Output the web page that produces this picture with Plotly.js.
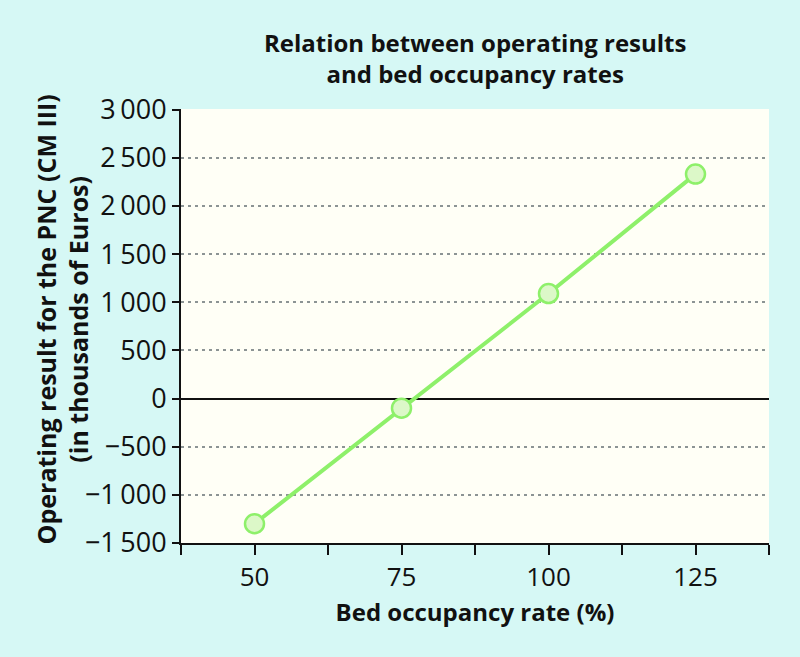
<!DOCTYPE html>
<html>
<head>
<meta charset="utf-8">
<script src="https://cdn.plot.ly/plotly-3.0.1.min.js"></script>
<style>html,body{margin:0;padding:0;background:#d6f8f5;}#chart{width:800px;height:657px;}</style>
</head>
<body>
<div id="chart"></div>
<script>
const occupancy = [50, 75, 100, 125];
const operatingResult = [-1300, -100, 1090, 2330];

const xTickVals = [37.5, 50, 62.5, 75, 87.5, 100, 112.5, 125, 137.5];
const xTickText = ['', '50', '', '75', '', '100', '', '125', ''];
const yTickVals = [-1500, -1000, -500, 0, 500, 1000, 1500, 2000, 2500, 3000];
const yTickText = ['\u22121\u2009500', '\u22121\u2009000', '\u2212500', '0', '500', '1\u2009000', '1\u2009500', '2\u2009000', '2\u2009500', '3\u2009000'];

const font = 'Open Sans, DejaVu Sans, sans-serif';

const trace = {
  x: occupancy, y: operatingResult, type: 'scatter', mode: 'lines+markers',
  line: {color: '#8ef06a', width: 4},
  marker: {size: 19, color: '#dcf8c8', line: {color: '#8ef06a', width: 2.5}},
  cliponaxis: false, hoverinfo: 'none'
};

const layout = {
  width: 800, height: 657,
  paper_bgcolor: '#d6f8f5', plot_bgcolor: '#fffff6',
  margin: {l: 181, r: 31, t: 109, b: 114},
  showlegend: false,
  title: {text: '<b>Relation between operating results<br>and bed occupancy rates</b>',
          font: {family: font, size: 24, color: '#111'}, x: 0.594, xanchor: 'center', y: 0.921, yanchor: 'top'},
  xaxis: {
    range: [37.5, 137.5], tickmode: 'array', tickvals: xTickVals, ticktext: xTickText,
    showgrid: false, zeroline: false, showline: true, linecolor: '#111', linewidth: 2,
    ticks: 'outside', ticklen: 10, tickwidth: 2, tickcolor: '#111',
    tickfont: {family: font, size: 26, color: '#111'},
    title: {text: '<b>Bed occupancy rate (%)</b>', font: {family: font, size: 24, color: '#111'}, standoff: 11}
  },
  yaxis: {
    range: [-1500, 3006], tickmode: 'array', tickvals: yTickVals, ticktext: yTickText,
    showgrid: true, gridcolor: '#8c9494', gridwidth: 2, griddash: '3px,4px',
    zeroline: true, zerolinecolor: '#111', zerolinewidth: 2,
    showline: true, linecolor: '#111', linewidth: 2,
    ticks: 'outside', ticklen: 7, tickwidth: 2, tickcolor: '#111',
    tickfont: {family: font, size: 27, color: '#111'}
  },
  annotations: [{
    text: '<b>Operating result for the PNC (CM III)<br>(in thousands of Euros)</b>',
    xref: 'paper', yref: 'paper', x: -0.2015, y: 0.514, xanchor: 'center', yanchor: 'middle',
    textangle: -90, showarrow: false, font: {family: font, size: 25, color: '#111'}
  }]
};

Plotly.newPlot('chart', [trace], layout, {displayModeBar: false, staticPlot: true});
</script>
</body>
</html>
